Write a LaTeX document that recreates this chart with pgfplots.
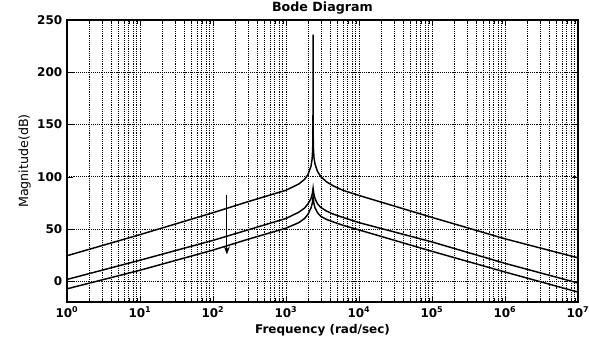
\documentclass[border=0pt]{standalone}
\usepackage{fontspec}
\setmainfont{DejaVu Sans}
\usepackage{pgfplots}
\pgfplotsset{compat=1.18}
\usetikzlibrary{arrows.meta}
\begin{document}
\begin{tikzpicture}
\path[use as bounding box] (-50.25pt,-30pt) rectangle (391.5pt,226.5pt);
\begin{semilogxaxis}[
  anchor=south west, at={(0,0)},
  scale only axis, width=383.25pt, height=211.5pt,
  xmin=1, xmax=1e7, ymin=-20, ymax=250,
  xtick={1,10,100,1000,10000,100000,1000000,10000000},
  xticklabels={10\textsuperscript{0},10\textsuperscript{1},10\textsuperscript{2},10\textsuperscript{3},10\textsuperscript{4},10\textsuperscript{5},10\textsuperscript{6},10\textsuperscript{7}},
  ytick={0,50,100,150,200,250},
  /pgf/number format/assume math mode=true,
  tick label style={font=\bfseries\fontsize{9}{10}\selectfont},
  grid=both,
  major grid style={black, densely dotted, line width=0.5pt},
  minor grid style={black, densely dotted, line width=0.4pt},
  tick align=inside, tick style={black},
  title={\bfseries Bode Diagram},
  title style={font=\fontsize{9.5}{10}\selectfont, yshift=-5pt},
  xlabel={\bfseries Frequency (rad/sec)},
  xlabel style={font=\fontsize{9}{10}\selectfont, yshift=2pt},
  ylabel={Magnitude(dB)},
  ylabel style={font=\fontsize{9.5}{10}\selectfont, yshift=-2pt},
  axis line style={black, line width=0.8pt},
]
\addplot[black, line width=1.1pt] coordinates {
(1,24.3) (10,44.5) (100,65.5) (300,76) (1000,87) (1500,93) (1800,97.5) (2000,102) (2200,110) (2280,117) (2320,126) (2340,138) (2350,236) (2360,138) (2380,126) (2420,118) (2500,112) (2700,105) (3000,100) (3600,95) (4500,91) (6000,87) (10000,82) (100000,61) (1000000,40.5) (10000000,22.3)
};
\addplot[black, line width=1.1pt] coordinates {
(1,1.6) (10,20) (100,39) (300,49) (1000,60) (1500,66) (1800,70) (2000,74) (2200,79) (2300,84) (2350,89) (2400,84) (2500,79) (2700,74) (3000,70.5) (3600,67) (4500,64) (6000,61) (10000,56) (100000,37.5) (1000000,17) (10000000,-1.8)
};
\addplot[black, line width=1.1pt] coordinates {
(1,-7.4) (10,10.4) (100,29.7) (300,40) (1000,50.7) (1500,56) (1800,60) (2000,64) (2200,70) (2300,75) (2350,81) (2400,75) (2500,70) (2700,65.5) (3000,62) (3600,59) (4500,56.5) (6000,53.5) (10000,49) (100000,28.5) (1000000,8.7) (10000000,-10.5)
};
\draw[-{Stealth[length=6pt,width=4.5pt]}, line width=0.8pt] (axis cs:155,82) -- (axis cs:155,25.6);
\end{semilogxaxis}
\end{tikzpicture}
\end{document}
